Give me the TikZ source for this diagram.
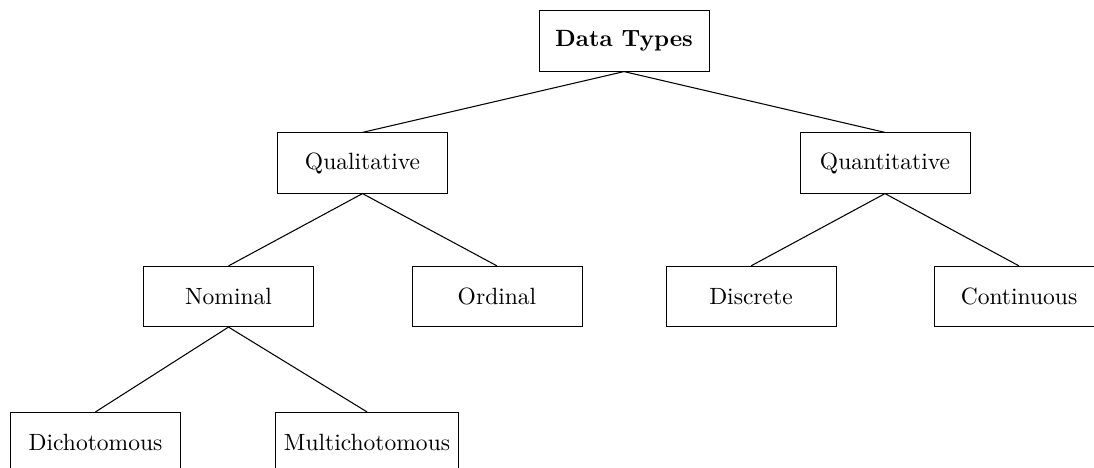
\documentclass[tikz,border=0pt]{standalone}
\begin{document}
\begin{tikzpicture}[x=0.01494cm, y=-0.01494cm,
  box/.style={draw, rectangle, minimum width=2.54cm, minimum height=0.9cm, inner sep=3.4pt, font=\normalsize},
  link/.style={draw, line width=0.45pt}]
  \useasboundingbox (0,0) rectangle (1094,468);
  \clip (0,0) rectangle (1094,468);
  % root
  \node[box, font=\bfseries] (data) at (624,41) {Data Types};
  % second level
  \node[box] (qual) at (362.5,163) {Qualitative};
  \node[box] (quant) at (885,163) {Quantitative};
  % third level
  \node[box] (nom) at (228.5,296.5) {Nominal};
  \node[box] (ord) at (497,296.5) {Ordinal};
  \node[box] (disc) at (751,296.5) {Discrete};
  \node[box] (cont) at (1019,296.5) {Continuous};
  % fourth level
  \node[box] (dich) at (95.5,442.5) {Dichotomous};
  \node[box] (multi) at (367,442.5) {Multichotomous};
  % connectors
  \draw[link] (data.south) -- (qual.north);
  \draw[link] (data.south) -- (quant.north);
  \draw[link] (qual.south) -- (nom.north);
  \draw[link] (qual.south) -- (ord.north);
  \draw[link] (quant.south) -- (disc.north);
  \draw[link] (quant.south) -- (cont.north);
  \draw[link] (nom.south) -- (dich.north);
  \draw[link] (nom.south) -- (multi.north);
\end{tikzpicture}
\end{document}
